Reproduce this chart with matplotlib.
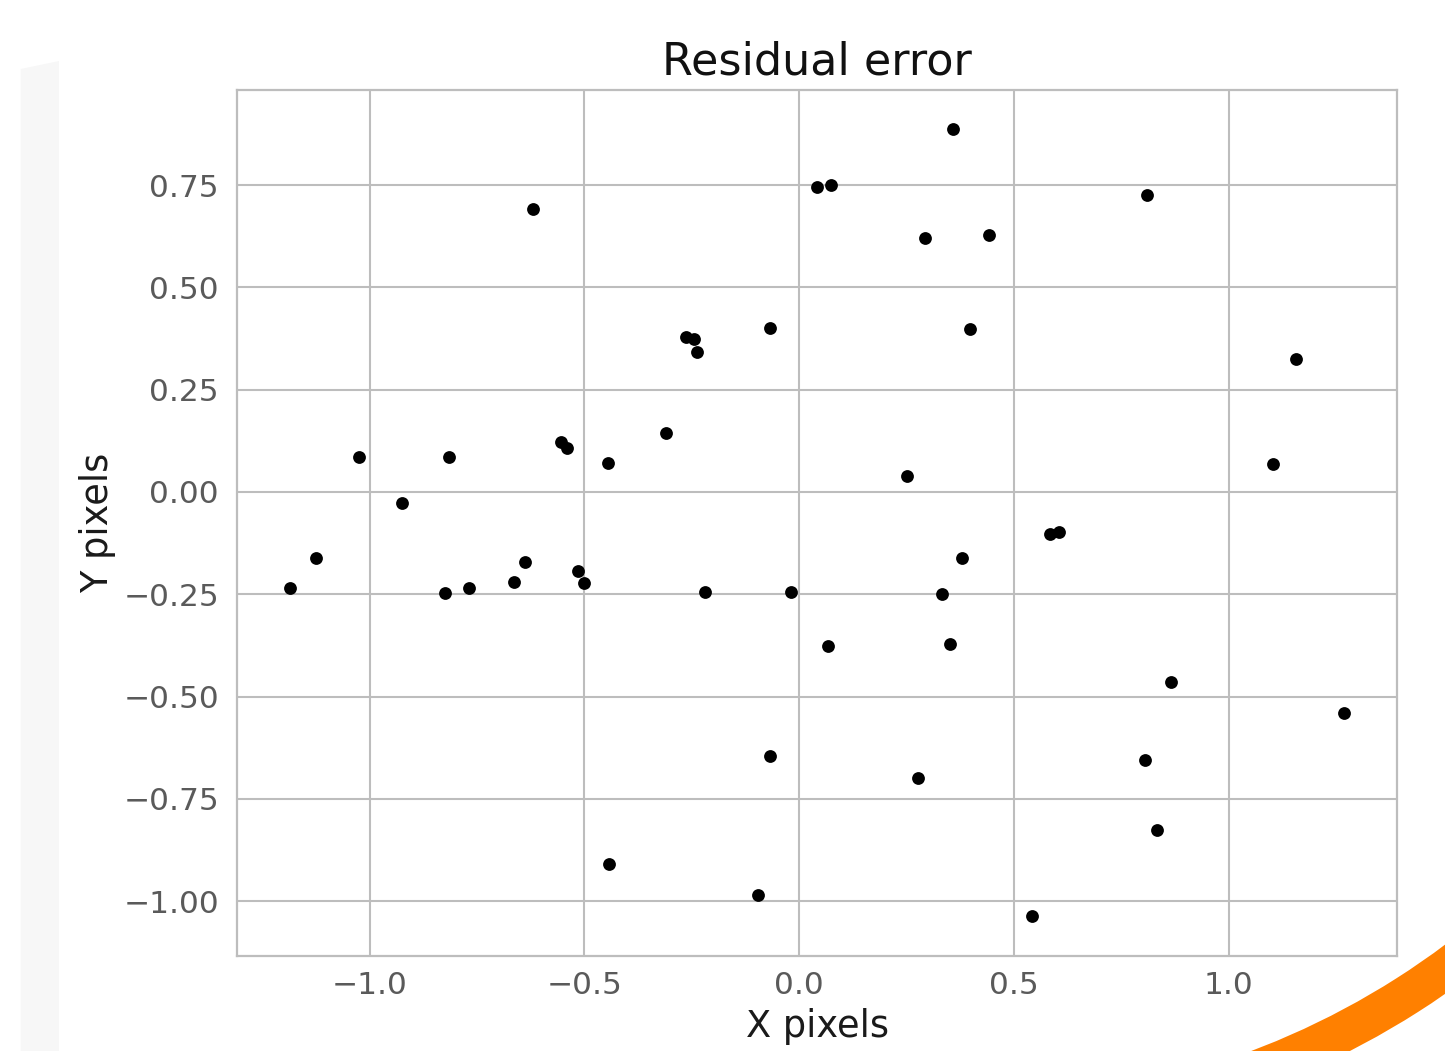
import matplotlib
matplotlib.use("Agg")
import matplotlib.pyplot as plt
from matplotlib.patches import Wedge, Polygon

# Residuals (X pixels, Y pixels)
x_resid = [0.359, 0.042, 0.073, 0.809, -0.620, 0.294, 0.442, -0.067, 0.397, -0.263,
           -0.245, -0.237, 1.156, -0.311, -0.555, -0.541, -1.025, -0.816, -0.446, 1.102,
           0.251, -0.925, 0.585, 0.604, -1.125, -0.638, 0.378, -0.516, -0.664, -0.502,
           -1.186, -0.769, -0.825, -0.220, -0.020, 0.333, 0.066, 0.350, 0.865, 1.269,
           -0.069, 0.804, 0.276, 0.834, -0.443, -0.097, 0.543]
y_resid = [0.886, 0.744, 0.749, 0.725, 0.691, 0.621, 0.629, 0.401, 0.398, 0.378,
           0.373, 0.342, 0.324, 0.144, 0.122, 0.108, 0.085, 0.085, 0.071, 0.068,
           0.040, -0.028, -0.102, -0.097, -0.162, -0.171, -0.162, -0.194, -0.221, -0.222,
           -0.235, -0.235, -0.248, -0.245, -0.245, -0.249, -0.377, -0.372, -0.465, -0.541,
           -0.644, -0.654, -0.698, -0.825, -0.908, -0.986, -1.037]

title = "Residual error"
x_label = "X pixels"
y_label = "Y pixels"
x_ticks = [-1.0, -0.5, 0.0, 0.5, 1.0]
y_ticks = [0.75, 0.50, 0.25, 0.00, -0.25, -0.50, -0.75, -1.00]

plt.rcParams['font.family'] = ['DejaVu Sans']
plt.rcParams['axes.unicode_minus'] = True

W, H = 1445, 1051
fig = plt.figure(figsize=(W / 100, H / 100), dpi=100)
fig.patch.set_facecolor('white')

# screenshot decorations (light band at left, orange arc at bottom right)
band = Polygon([[0.207, 0.0], [0.59, 0.0], [0.59, (H - 61) / 100], [0.207, (H - 69) / 100]],
               closed=True, transform=fig.dpi_scale_trans, facecolor='#f7f7f7',
               edgecolor='none', zorder=0)
fig.patches.append(band)
arc = Wedge((9.72, (H - 312) / 100), 8.30, -75, -40, width=0.40,
            transform=fig.dpi_scale_trans, facecolor='#ff8000', edgecolor='none', zorder=0)
fig.patches.append(arc)

ax = fig.add_axes([237 / W, 1 - 955.7 / H, (1397 - 237) / W, (955.7 - 90) / H])
ax.set_facecolor('white')
ax.scatter(x_resid, y_resid, s=85, c='black', linewidths=0, zorder=3)

ax.set_xticks(x_ticks)
ax.set_yticks(y_ticks)
ax.margins(0.05)

ax.grid(True, color='#bdbdbd', linewidth=1.5, zorder=0)
ax.set_axisbelow(True)
for sp in ax.spines.values():
    sp.set_color('#bdbdbd')
    sp.set_linewidth(1.6)

ax.tick_params(axis='both', length=0, labelsize=22.5, labelcolor='#5a5a5a')
ax.tick_params(axis='x', pad=11)
ax.tick_params(axis='y', pad=13)

ax.set_title(title, fontsize=32, color='#111111', pad=11)
ax.set_xlabel(x_label, fontsize=26.5, color='#1a1a1a', labelpad=6)
ax.set_ylabel(y_label, fontsize=26.5, color='#1a1a1a', labelpad=5)

fig.savefig('out.png', dpi=100)
